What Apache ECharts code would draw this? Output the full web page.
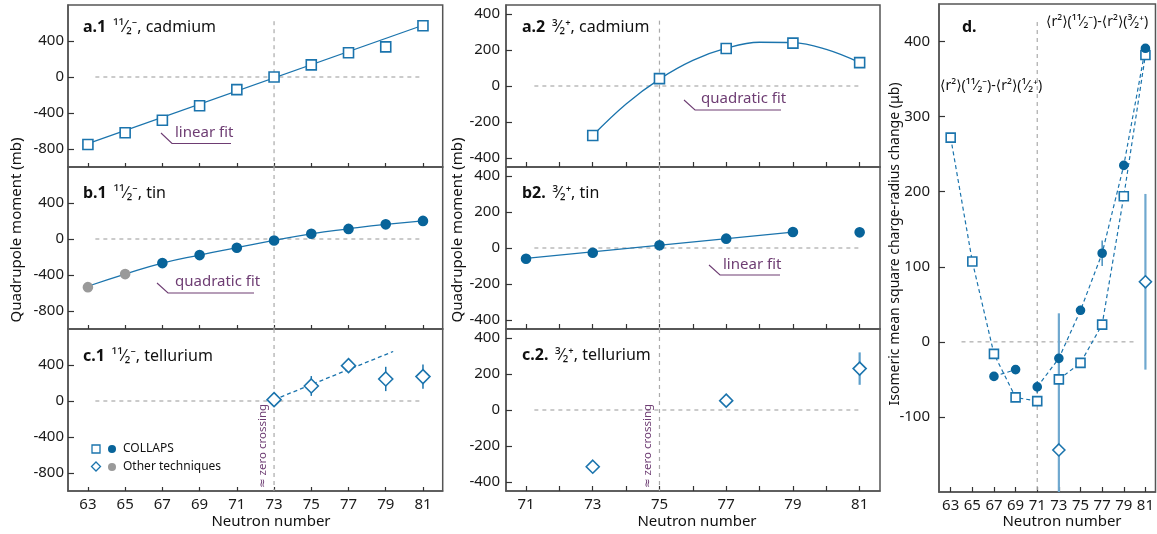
<!DOCTYPE html>
<html>
<head>
<meta charset="utf-8">
<script src="https://cdn.jsdelivr.net/npm/echarts@6/dist/echarts.min.js"></script>
<style>
  html, body { margin: 0; padding: 0; background: #fff; }
  #main { width: 1157px; height: 534px; }
</style>
</head>
<body>
<div id="main"></div>
<script>
// neutron numbers / tick values
var N1 = [63, 65, 67, 69, 71, 73, 75, 77, 79, 81];
var N2ticks = [71, 72, 73, 74, 75, 76, 77, 78, 79, 80, 81];
var N2labels = [71, 73, 75, 77, 79, 81];
var yTicks1 = [-800, -400, 0, 400];
var yTicks2 = [-400, -200, 0, 200, 400];
var yTicksD = [-100, 0, 100, 200, 300, 400];

// a.1  11/2- cadmium
var cdHigh = [-750, -620, -480, -320, -140, 0, 135, 270, 335, 570];
var cdHighFitN = [63, 81];
var cdHighFit = [-740, 575];

// b.1  11/2- tin
var snHighOtherN = [63, 65];
var snHighOther = [-535, -390];
var snHighOtherErr = [0, 45];
var snHighN = [67, 69, 71, 73, 75, 77, 79, 81];
var snHigh = [-268, -179, -97, -16, 59, 112, 163, 201];
var snHighFit = [-525, -390, -268, -178, -97, -16, 58, 113, 162, 201];

// c.1  11/2- tellurium
var teHighN = [73, 75, 77, 79, 81];
var teHigh = [15, 167, 393, 245, 271];
var teHighErr = [0, 110, 0, 135, 135];
var teHighFitN = [73, 79.4];
var teHighFit = [15, 550];

// a.2  3/2+ cadmium
var cdLowN = [73, 75, 77, 79, 81];
var cdLow = [-275, 41, 208, 238, 130];
var cdLowFitN = [73, 74, 75, 76, 77, 78, 79, 80, 81];
var cdLowFit = [-275, -100, 38, 142, 210, 243, 241, 203, 130];

// b2  3/2+ tin
var snLowN = [71, 73, 75, 77, 79, 81];
var snLow = [-60, -26, 15, 52, 89, 87];
var snLowFitN = [71, 79];
var snLowFit = [-58, 88];

// c.2  3/2+ tellurium
var teLowN = [73, 77, 81];
var teLow = [-315, 52, 230];
var teLowErr = [0, 0, 90];

// d  isomeric charge radius change
var dSquare = [272, 107, -16, -74, -79, -50, -28, 23, 194, 382];
var dCircleN = [67, 69, 71, 73, 75, 77, 79, 81];
var dCircle = [-46, -37, -60, -22, 42, 118, 235, 391];
var dCircleErr = [0, 0, 8, 0, 6, 17, 6, 0];
var dDiamondN = [73, 81];
var dDiamond = [-144, 80];
var dDiamondLo = [-200, -37];
var dDiamondHi = [38, 197];

var BLUE = '#1b74ad';
var DARK = '#08649a';
var GRAY = '#9a9a9a';
var PURPLE = '#6e3d73';
var FRAME = '#555';
var FONT = "'Noto Sans', 'DejaVu Sans', sans-serif";

function pairs(xs, ys) {
    var out = [];
    for (var i = 0; i < xs.length; i++) {
        if (ys[i] !== null) out.push([xs[i], ys[i]]);
    }
    return out;
}
// insert a break in a connecting line before x = breakAt
function withGap(xs, ys, breakAt) {
    var out = [];
    for (var i = 0; i < xs.length; i++) {
        if (xs[i] === breakAt) out.push([breakAt - 1, '-']);
        out.push([xs[i], ys[i]]);
    }
    return out;
}
function errData(xs, ys, lo, hi) {
    var out = [];
    for (var i = 0; i < xs.length; i++) {
        if (hi[i] !== ys[i] || lo[i] !== ys[i]) out.push([xs[i], lo[i], hi[i]]);
    }
    return out;
}
function symErr(xs, ys, err) {
    var lo = [], hi = [];
    for (var i = 0; i < xs.length; i++) { lo.push(ys[i] - err[i]); hi.push(ys[i] + err[i]); }
    return errData(xs, ys, lo, hi);
}

var grids = [
    {left: 68, top: 5, width: 374.7, height: 162},
    {left: 68, top: 167, width: 374.7, height: 162},
    {left: 68, top: 329, width: 374.7, height: 162},
    {left: 506, top: 5, width: 374, height: 162},
    {left: 506, top: 167, width: 374, height: 162},
    {left: 506, top: 329, width: 374, height: 162},
    {left: 939, top: 4, width: 222, height: 488}
];
grids.forEach(function (g) {
    g.show = true; g.borderColor = FRAME; g.borderWidth = 1.5;
});

function xAx(gi, min, max, ticks, labels, showLabel, tickLen) {
    return {
        type: 'value', gridIndex: gi, min: min, max: max,
        axisLine: {show: true, onZero: false, lineStyle: {color: FRAME, width: 1.5}},
        axisTick: {show: true, inside: true, length: tickLen, customValues: ticks, lineStyle: {color: '#333', width: 1.2}},
        axisLabel: {show: showLabel, customValues: labels, margin: 6, color: '#1a1a1a', fontSize: 15, fontFamily: FONT},
        splitLine: {show: false}
    };
}
function yAx(gi, min, max, ticks, margin) {
    return {
        type: 'value', gridIndex: gi, min: min, max: max,
        axisLine: {show: true, onZero: false, lineStyle: {color: FRAME, width: 1.5}},
        axisTick: {show: true, inside: true, length: 6, customValues: ticks, lineStyle: {color: '#333', width: 1.2}},
        axisLabel: {customValues: ticks, margin: margin, color: '#1a1a1a', fontSize: 15, fontFamily: FONT},
        splitLine: {show: false}
    };
}

var xAxes = [
    xAx(0, 61.93, 82.06, N1, N1, false, 4),
    xAx(1, 61.93, 82.06, N1, N1, false, 4),
    xAx(2, 61.93, 82.06, N1, N1, true, 4),
    xAx(3, 70.4, 81.61, N2ticks, N2labels, false, 5),
    xAx(4, 70.4, 81.61, N2ticks, N2labels, false, 5),
    xAx(5, 70.4, 81.61, N2ticks, N2labels, true, 5),
    xAx(6, 61.92, 81.93, N1, N1, true, 5)
];
var yAxes = [
    yAx(0, -1000, 800, yTicks1, 4),
    yAx(1, -1000, 800, yTicks1, 4),
    yAx(2, -1000, 800, yTicks1, 4),
    yAx(3, -450, 450, yTicks2, 6),
    yAx(4, -450, 450, yTicks2, 6),
    yAx(5, -450, 450, yTicks2, 6),
    yAx(6, -200, 450, yTicksD, 9)
];

function guide(gi, data) {
    return {
        type: 'line', xAxisIndex: gi, yAxisIndex: gi, data: data, symbol: 'none', silent: true, z: 1,
        lineStyle: {color: '#aaa', width: 1.2, type: [4, 4]}
    };
}
function fitLine(gi, data, smooth, dashed, width) {
    return {
        type: 'line', xAxisIndex: gi, yAxisIndex: gi, data: data, symbol: 'none', smooth: smooth, z: 2,
        connectNulls: false,
        lineStyle: {color: BLUE, width: width || 1.3, type: dashed ? [4, 3] : 'solid'}
    };
}
function marks(gi, data, symbol, size, fill, stroke) {
    return {
        type: 'scatter', xAxisIndex: gi, yAxisIndex: gi, data: data, symbol: symbol, symbolSize: size, z: 4,
        itemStyle: {color: fill, borderColor: stroke, borderWidth: 1.6, opacity: 1}
    };
}
function errBars(gi, data, color, width) {
    return {
        type: 'custom', xAxisIndex: gi, yAxisIndex: gi, z: 3, clip: true,
        renderItem: function (params, api) {
            var a = api.coord([api.value(0), api.value(1)]);
            var b = api.coord([api.value(0), api.value(2)]);
            return {type: 'line', shape: {x1: a[0], y1: a[1], x2: b[0], y2: b[1]},
                style: {stroke: color, lineWidth: width}};
        },
        data: data
    };
}

var series = [
    // zero and crossing guides
    guide(0, [[63.4, 0], [81, 0]]), guide(1, [[63.4, 0], [81, 0]]), guide(2, [[63.4, 0], [81, 0]]),
    guide(0, [[73, 620], [73, -1000]]), guide(1, [[73, 800], [73, -1000]]), guide(2, [[73, 800], [73, -1000]]),
    guide(3, [[71.25, 0], [81, 0]]), guide(4, [[71.25, 0], [81, 0]]), guide(5, [[71.25, 0], [81, 0]]),
    guide(3, [[75, 363], [75, -450]]), guide(4, [[75, 450], [75, -450]]), guide(5, [[75, 450], [75, -450]]),
    guide(6, [[64, 0], [80.2, 0]]), guide(6, [[71, 426], [71, -200]]),

    // a.1
    fitLine(0, pairs(cdHighFitN, cdHighFit), false, false),
    marks(0, pairs(N1, cdHigh), 'rect', 10, '#fff', BLUE),
    // b.1
    fitLine(1, pairs(N1, snHighFit), true, false),
    errBars(1, symErr(snHighOtherN, snHighOther, snHighOtherErr), GRAY, 1.5),
    marks(1, pairs(snHighOtherN, snHighOther), 'circle', 9, GRAY, GRAY),
    marks(1, pairs(snHighN, snHigh), 'circle', 9, DARK, DARK),
    // c.1
    fitLine(2, pairs(teHighFitN, teHighFit), false, true),
    errBars(2, symErr(teHighN, teHigh, teHighErr), BLUE, 1.5),
    marks(2, pairs(teHighN, teHigh), 'diamond', 14, '#fff', BLUE),
    // a.2
    fitLine(3, pairs(cdLowFitN, cdLowFit), 0.4, false),
    marks(3, pairs(cdLowN, cdLow), 'rect', 10, '#fff', BLUE),
    // b2
    fitLine(4, pairs(snLowFitN, snLowFit), false, false),
    marks(4, pairs(snLowN, snLow), 'circle', 9, DARK, DARK),
    // c.2
    errBars(5, symErr(teLowN, teLow, teLowErr), '#5d9fcb', 2.2),
    marks(5, pairs(teLowN, teLow), 'diamond', 13, '#fff', BLUE),
    // d
    fitLine(6, withGap(N1, dSquare, 73), false, true, 1.2),
    fitLine(6, withGap(dCircleN, dCircle, 71), false, true, 1.2),
    errBars(6, errData(dDiamondN, dDiamond, dDiamondLo, dDiamondHi), '#6fa8cf', 2.2),
    errBars(6, symErr(dCircleN, dCircle, dCircleErr), BLUE, 1.2),
    marks(6, pairs(N1, dSquare), 'rect', 9, '#fff', BLUE),
    marks(6, pairs(dCircleN, dCircle), 'circle', 8, DARK, DARK),
    marks(6, pairs(dDiamondN, dDiamond), 'diamond', 12, '#fff', BLUE)
];

function title(x, y, label, rest) {
    return {
        type: 'text', x: x, y: y, z: 10,
        style: {
            text: '{b|' + label + '}  {t|' + rest + '}', verticalAlign: 'middle', fill: '#111',
            rich: {
                b: {fontWeight: 'bold', fontSize: 16, fontFamily: FONT, fill: '#111'},
                t: {fontSize: 16, fontFamily: FONT, fill: '#111'}
            }
        }
    };
}
function note(x, y, text, pts) {
    return [
        {type: 'polyline', z: 10, shape: {points: pts}, style: {stroke: PURPLE, lineWidth: 1.1, fill: null}},
        {type: 'text', x: x, y: y, z: 10, style: {text: text, fill: PURPLE, fontSize: 15, fontFamily: FONT, verticalAlign: 'middle'}}
    ];
}
function vtext(x, y, text, size, color) {
    return {
        type: 'text', x: x, y: y, rotation: Math.PI / 2, z: 10,
        style: {text: text, fill: color, fontSize: size, fontFamily: FONT, align: 'center', verticalAlign: 'middle'}
    };
}

var graphics = [
    title(83, 27, 'a.1', '¹¹⁄₂⁻, cadmium'),
    title(83, 193, 'b.1', '¹¹⁄₂⁻, tin'),
    title(83, 356, 'c.1', '¹¹⁄₂⁻, tellurium'),
    title(522, 27, 'a.2', '³⁄₂⁺, cadmium'),
    title(522, 193, 'b2.', '³⁄₂⁺, tin'),
    title(522, 355, 'c.2.', '³⁄₂⁺, tellurium'),
    {type: 'text', x: 962, y: 27, z: 10, style: {text: 'd.', fontWeight: 'bold', fontSize: 16, fontFamily: FONT, fill: '#111', verticalAlign: 'middle'}},
    {type: 'text', x: 1046, y: 22, z: 10, style: {text: '⟨r²⟩(¹¹⁄₂⁻)-⟨r²⟩(³⁄₂⁺)', fontSize: 14, fontFamily: FONT, fill: '#111', verticalAlign: 'middle'}},
    {type: 'text', x: 940, y: 86, z: 10, style: {text: '⟨r²⟩(¹¹⁄₂⁻)-⟨r²⟩(¹⁄₂⁺)', fontSize: 14, fontFamily: FONT, fill: '#111', verticalAlign: 'middle'}},

    vtext(17, 230, 'Quadrupole moment (mb)', 15, '#111'),
    vtext(458, 230, 'Quadrupole moment (mb)', 15, '#111'),
    vtext(895, 244, 'Isomeric mean square charge-radius change (μb)', 14, '#111'),
    vtext(263, 446, '≈ zero crossing', 11.5, PURPLE),
    vtext(648, 446, '≈ zero crossing', 11.5, PURPLE),

    {type: 'text', x: 271, y: 522, z: 10, style: {text: 'Neutron number', fontSize: 15, fontFamily: FONT, fill: '#111', align: 'center', verticalAlign: 'middle'}},
    {type: 'text', x: 697, y: 522, z: 10, style: {text: 'Neutron number', fontSize: 15, fontFamily: FONT, fill: '#111', align: 'center', verticalAlign: 'middle'}},
    {type: 'text', x: 1062, y: 522, z: 10, style: {text: 'Neutron number', fontSize: 15, fontFamily: FONT, fill: '#111', align: 'center', verticalAlign: 'middle'}},

    // legend in c.1
    {type: 'rect', z: 10, shape: {x: 92, y: 445, width: 8, height: 8}, style: {fill: '#fff', stroke: BLUE, lineWidth: 1.3}},
    {type: 'circle', z: 10, shape: {cx: 112, cy: 449, r: 4}, style: {fill: DARK}},
    {type: 'text', x: 123, y: 449, z: 10, style: {text: 'COLLAPS', fontSize: 12, fontFamily: FONT, fill: '#111', verticalAlign: 'middle'}},
    {type: 'polygon', z: 10, shape: {points: [[96, 462], [100.5, 466.5], [96, 471], [91.5, 466.5]]}, style: {fill: '#fff', stroke: BLUE, lineWidth: 1.3}},
    {type: 'circle', z: 10, shape: {cx: 112, cy: 467, r: 4}, style: {fill: GRAY}},
    {type: 'text', x: 123, y: 467, z: 10, style: {text: 'Other techniques', fontSize: 12, fontFamily: FONT, fill: '#111', verticalAlign: 'middle'}}
];
graphics = graphics
    .concat(note(175, 133, 'linear fit', [[161, 133], [172, 143.5], [231, 143.5]]))
    .concat(note(175, 282, 'quadratic fit', [[157, 283], [168, 293], [254, 293]]))
    .concat(note(701, 99, 'quadratic fit', [[684, 100], [695, 110], [781, 110]]))
    .concat(note(723, 265, 'linear fit', [[709, 265], [720, 275], [780, 275]]));

var chart = echarts.init(document.getElementById('main'), null, {renderer: 'canvas'});
chart.setOption({
    animation: false,
    backgroundColor: '#fff',
    textStyle: {fontFamily: FONT},
    grid: grids,
    xAxis: xAxes,
    yAxis: yAxes,
    series: series,
    graphic: graphics
});
</script>
</body>
</html>
